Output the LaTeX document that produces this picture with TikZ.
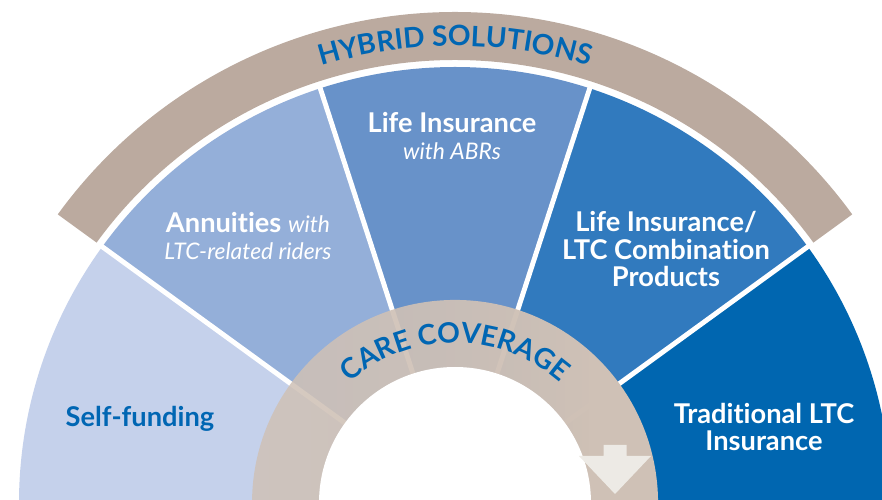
\documentclass[tikz,border=0pt]{standalone}
\usepackage{fontspec}
\setmainfont{Lato}[Ligatures=NoCommon]
\usepackage{xcolor}
\usepackage{tikz}
\usetikzlibrary{decorations.text, fadings, positioning}
\definecolor{CareBlue}{RGB}{0,102,179}
\definecolor{FundBlue}{RGB}{197,209,235}
\definecolor{AnnuBlue}{RGB}{148,175,217}
\definecolor{LifeBlue}{RGB}{104,146,201}
\definecolor{ComboBlue}{RGB}{49,122,190}
\definecolor{LTCBlue}{RGB}{0,102,176}
\definecolor{HybridTaupe}{RGB}{187,170,159}
\definecolor{RingBeige}{RGB}{207,193,182}
\definecolor{ArrowWhite}{RGB}{237,234,229}
% ring is see-through on the left, solid from just right of the middle
\begin{tikzfadingfrompicture}[name=ringfade]
    \shade[left color=transparent!50, right color=transparent!0] (0,0) rectangle (4.66,8.12);
    \fill[transparent!0] (4.64,0) rectangle (8.12,8.12);
\end{tikzfadingfrompicture}
\newcommand{\ringfont}{\fontsize{16}{16}\selectfont\bfseries}
\newcommand{\subtext}[1]{{\fontsize{13}{15.5}\selectfont\mdseries\itshape #1}}
\tikzset{
    wedgelabel/.style={
        font=\fontsize{15.5}{15.5}\selectfont\bfseries, text=white, align=center, inner sep=0pt
    },
    gapline/.style={
        draw=white, line width=2.8pt
    },
    arctext/.style={
        decorate, decoration={text along path, text align=center, text color=CareBlue}
    }
}

\begin{document}
\begin{tikzpicture}[x=0.02cm, y=0.02cm]
    \useasboundingbox (-455,3) rectangle (427,503);

    % --- the five wedges and the white gaps between them ---
    \foreach \col/\a in {FundBlue/144, AnnuBlue/108, LifeBlue/72, ComboBlue/36, LTCBlue/0}
        \fill[\col] (0,0) -- (\a:436) arc[start angle=\a, delta angle=36, radius=436] -- cycle;
    \foreach \a in {36,72,108,144}
        \draw[gapline] (0,0) -- (\a:440);

    % --- outer band over the three middle wedges ---
    \fill[HybridTaupe] (36:443) arc[start angle=36, end angle=144, radius=443]
        -- (144:491) arc[start angle=144, end angle=36, radius=491] -- cycle;
    \path[arctext, decoration={text={|\ringfont|HYBRID SOLUTIONS}}]
        (130:457) arc[start angle=130, end angle=50, radius=457];

    % --- inner ring ---
    \fill[RingBeige, path fading=ringfade, fit fading=true] (0,0) circle[radius=203];
    \fill[white] (0,0) circle[radius=136];
    \path[arctext, decoration={text={|\ringfont|CARE COVERAGE}}]
        (155:160) arc[start angle=155, end angle=25, radius=160];
    \fill[ArrowWhite] (148.5,58) -- (171.5,58) -- (171.5,47) -- (196,47)
        -- (160,9) -- (124,47) -- (148.5,47) -- cycle;

    % --- labels ---
    \node[wedgelabel] (life) at (-3,367) {Life Insurance\\\subtext{with ABRs}};
    \node[wedgelabel] (annuity) at (-207,267) {Annuities \subtext{with}\\\subtext{LTC-related riders}};
    \node[wedgelabel] (combo) at (211,254) {Life Insurance/\\LTC Combination\\Products};
    \node[wedgelabel, text=CareBlue] (fund) at (-315,84) {Self-funding};
    \node[wedgelabel] (ltc) at (309,76) {Traditional LTC\\Insurance};
\end{tikzpicture}
\end{document}
